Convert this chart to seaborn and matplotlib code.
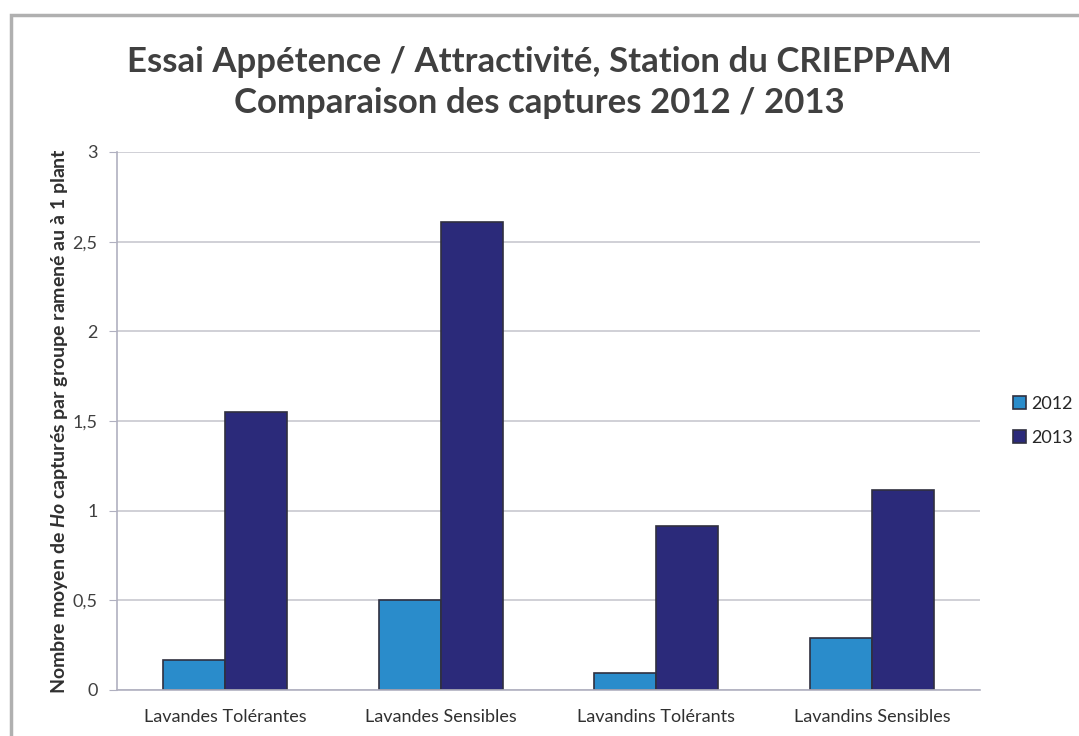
import numpy as np
import pandas as pd
import seaborn as sns
from matplotlib import pyplot as plt
from matplotlib.patches import Rectangle

categories = ["Lavandes Tolérantes", "Lavandes Sensibles", "Lavandins Tolérants", "Lavandins Sensibles"]
years = ["2012", "2013"]
values_2012 = [0.17, 0.50, 0.095, 0.29]
values_2013 = [1.55, 2.61, 0.915, 1.115]
yticks = [0, 0.5, 1, 1.5, 2, 2.5, 3]
ytick_labels = ["0", "0,5", "1", "1,5", "2", "2,5", "3"]

df = pd.DataFrame({
    "Groupe": categories * 2,
    "Année": [years[0]] * 4 + [years[1]] * 4,
    "Captures": values_2012 + values_2013,
})

sns.set_style("white")
plt.rcParams['font.family'] = ['Lato', 'DejaVu Sans']
plt.rcParams['mathtext.fontset'] = 'custom'
plt.rcParams['mathtext.it'] = 'Lato:italic:bold'

fig = plt.figure(figsize=(10.79, 7.36), dpi=100)
ax = fig.add_axes([0.1084, 0.0625, 0.7998, 0.731])

# scan-like frame around the chart area
fig.patches.append(Rectangle((0.010, -0.1), 1.2, 1.08, transform=fig.transFigure,
                             fill=False, edgecolor="#b0b0b0", linewidth=2.5))

palette = {"2012": "#2a8ccb", "2013": "#2b2a7a"}
sns.barplot(data=df, x="Groupe", y="Captures", hue="Année", palette=palette,
            width=0.575, edgecolor="#303040", linewidth=1.2, saturation=1, ax=ax)

ax.set_ylim(0, 3)
ax.set_xlim(-0.5, 3.5)
ax.set_yticks(yticks)
ax.set_yticklabels(ytick_labels, fontsize=13, color="#404040")
ax.yaxis.grid(True, color="#c8c8d0", linewidth=1.2)
ax.set_axisbelow(True)
ax.set_xlabel("")
ax.set_ylabel("Nombre moyen de $Ho$ capturés par groupe ramené au à 1 plant",
              fontsize=14, fontweight="bold", color="#303030", labelpad=2)

ax.set_xticks(np.arange(len(categories)))
ax.set_xticklabels(categories, fontsize=13, color="#303030")
ax.tick_params(axis="x", length=0, pad=14)
ax.set_xticks(np.arange(-0.5, 4.0, 1.0), minor=True)
ax.tick_params(axis="x", which="minor", length=6, color="#b0b0c0", direction="out")
ax.tick_params(axis="y", length=6, color="#b0b0c0", direction="out", left=True, pad=8)

for s in ["top", "right"]:
    ax.spines[s].set_visible(False)
for s in ["left", "bottom"]:
    ax.spines[s].set_color("#b0b0c0")
    ax.spines[s].set_linewidth(1.2)

ax.legend(loc="center left", bbox_to_anchor=(1.02, 0.5), frameon=False,
          fontsize=13, handlelength=0.7, handleheight=0.7, handletextpad=0.3,
          labelspacing=1.0)

fig.text(0.5, 0.916, "Essai Appétence / Attractivité, Station du CRIEPPAM",
         ha="center", va="center", fontsize=25, fontweight="bold", color="#404040")
fig.text(0.5, 0.86, "Comparaison des captures 2012 / 2013",
         ha="center", va="center", fontsize=25, fontweight="bold", color="#404040")

fig.savefig("out.png", dpi=100)
